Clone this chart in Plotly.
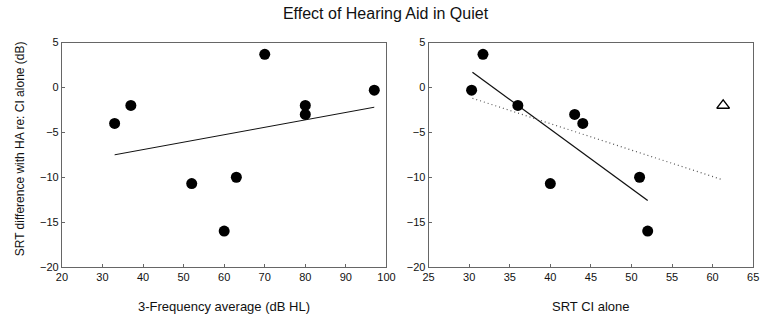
import plotly.graph_objects as go

# Left panel data
hl_x = [33, 37, 52, 60, 63, 70, 80, 80, 97]
hl_y = [-4, -2, -10.7, -16, -10, 3.7, -2, -3, -0.3]
hl_fit_x = [33, 97]
hl_fit_y = [-7.5, -2.2]

# Right panel data
ci_x = [30.3, 31.7, 36, 40, 43, 44, 51, 52]
ci_y = [-0.3, 3.7, -2, -10.7, -3, -4, -10, -16]
tri_x = [61.3]
tri_y = [-2]
ci_fit_x = [30.4, 52]
ci_fit_y = [1.7, -12.6]
all_fit_x = [30.4, 61.3]
all_fit_y = [-1.2, -10.3]

W, H = 771, 326
FONT = "Liberation Sans, Arial, sans-serif"

fig = go.Figure()
fig.add_trace(go.Scatter(x=hl_fit_x, y=hl_fit_y, mode="lines",
                         line=dict(color="#111", width=1), xaxis="x", yaxis="y", showlegend=False))
fig.add_trace(go.Scatter(x=hl_x, y=hl_y, mode="markers",
                         marker=dict(color="black", size=11, line=dict(width=0)),
                         xaxis="x", yaxis="y", showlegend=False))
fig.add_trace(go.Scatter(x=ci_fit_x, y=ci_fit_y, mode="lines",
                         line=dict(color="#111", width=1.3), xaxis="x2", yaxis="y2", showlegend=False))
fig.add_trace(go.Scatter(x=all_fit_x, y=all_fit_y, mode="lines",
                         line=dict(color="#555", width=1.2, dash="1px,3px"), xaxis="x2", yaxis="y2", showlegend=False))
fig.add_trace(go.Scatter(x=ci_x, y=ci_y, mode="markers",
                         marker=dict(color="black", size=11, line=dict(width=0)),
                         xaxis="x2", yaxis="y2", showlegend=False))
fig.add_trace(go.Scatter(x=tri_x, y=tri_y, mode="markers",
                         marker=dict(symbol="triangle-up-open", color="black", size=11, line=dict(width=1.4)),
                         xaxis="x2", yaxis="y2", showlegend=False))

ydom = [1 - 271 / H, 1 - 38 / H]
axcommon = dict(showgrid=False, zeroline=False, showline=True, linecolor="#666", linewidth=1,
                mirror=True, ticks="inside", ticklen=3, tickcolor="#666",
                tickfont=dict(family=FONT, size=11, color="#111"))

fig.update_layout(
    width=W, height=H,
    margin=dict(l=0, r=0, t=0, b=0),
    paper_bgcolor="white", plot_bgcolor="white",
    font=dict(family=FONT, color="#111"),
    title=dict(text="Effect of Hearing Aid in Quiet", x=0.5, xanchor="center",
               y=1 - 13 / H, yanchor="middle", font=dict(family=FONT, size=16, color="#111")),
    xaxis=dict(domain=[57 / W, 388 / W], range=[20, 100], tickvals=list(range(20, 101, 10)), **axcommon),
    yaxis=dict(domain=ydom, range=[-20, 5], tickvals=list(range(-20, 6, 5)), **axcommon),
    xaxis2=dict(domain=[431 / W, 762 / W], range=[25, 65], tickvals=list(range(25, 66, 5)),
                anchor="y2", **axcommon),
    yaxis2=dict(domain=ydom, range=[-20, 5], tickvals=list(range(-20, 6, 5)), anchor="x2", **axcommon),
    annotations=[
        dict(text="3-Frequency average (dB HL)", x=(57 + 388) / 2 / W, y=1 - 312 / H,
             xref="paper", yref="paper", showarrow=False, xanchor="center", yanchor="middle",
             font=dict(family=FONT, size=13, color="#111")),
        dict(text="SRT CI alone", x=(431 + 762) / 2 / W, y=1 - 312 / H,
             xref="paper", yref="paper", showarrow=False, xanchor="center", yanchor="middle",
             font=dict(family=FONT, size=13, color="#111")),
        dict(text="SRT difference with HA re: CI alone (dB)", x=14 / W, y=(1 - 148 / H),
             xref="paper", yref="paper", showarrow=False, xanchor="center", yanchor="middle",
             textangle=-90, font=dict(family=FONT, size=12, color="#111")),
    ],
)

fig.write_html("out.html")
